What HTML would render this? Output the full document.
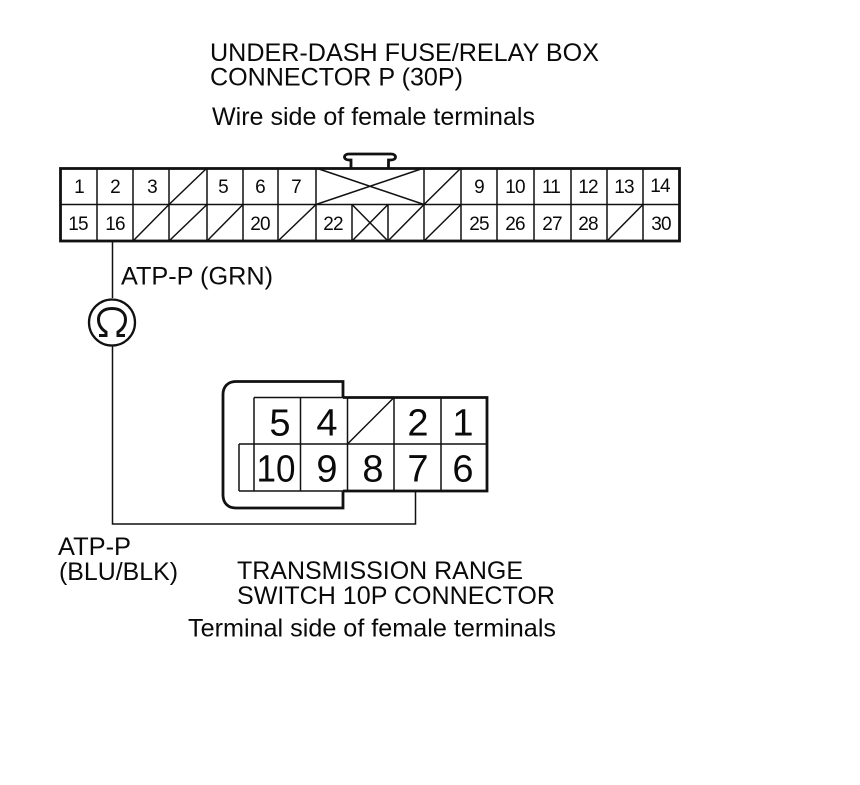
<!DOCTYPE html>
<html>
<head>
<meta charset="utf-8">
<style>
html,body{margin:0;padding:0;background:#fff;width:860px;height:785px;overflow:hidden}
svg{display:block}
text{font-family:"Liberation Sans",sans-serif;fill:#0a0a0a}
.t{font-size:25px}
.n{font-size:19px;text-anchor:middle;letter-spacing:-0.8px}
.b{font-size:38px;text-anchor:middle}
</style>
</head>
<body>
<svg width="860" height="785" viewBox="0 0 860 785" xmlns="http://www.w3.org/2000/svg">
<rect width="860" height="785" fill="#fff"/>
<!-- heading text -->
<text class="t" x="210" y="61" textLength="389" lengthAdjust="spacingAndGlyphs">UNDER-DASH FUSE/RELAY BOX</text>
<text class="t" x="210" y="85.500" textLength="253" lengthAdjust="spacingAndGlyphs">CONNECTOR P (30P)</text>
<text class="t" x="212" y="125" textLength="323" lengthAdjust="spacingAndGlyphs">Wire side of female terminals</text>

<!-- 30P connector tab -->
<path d="M351 168V160H349C343 160 343 154 349 154H391C397 154 397 160 391 160H388.500V168" fill="none" stroke="#111" stroke-width="2.800"/>

<!-- 30P thin grid -->
<g stroke="#111" stroke-width="1.500" fill="none">
<path d="M60 204.500H680"/>
<path d="M97 168V241M133 168V241M169 168V241M207 168V241M243 168V241M278 168V241M316 168V241M424 168V241M461 168V241M497 168V241M534 168V241M571 168V241M607 168V241M643 168V241"/>
<path d="M352 204.500V241M388 204.500V241"/>
<!-- blank wide cell cross -->
<path d="M316 168L424 204.500M316 204.500L424 168"/>
<!-- small cross -->
<path d="M352 204.500L388 241M352 241L388 204.500"/>
<!-- diagonals row 1 -->
<path d="M169 204.500L207 168M424 204.500L461 168"/>
<!-- diagonals row 2 -->
<path d="M133 241L169 204.500M169 241L207 204.500M207 241L243 204.500M278 241L316 204.500M388 241L424 204.500M424 241L461 204.500M607 241L643 204.500"/>
</g>
<rect x="60.500" y="168.500" width="619" height="72.500" fill="none" stroke="#111" stroke-width="2.800"/>

<!-- 30P labels -->
<g class="nums">
<text class="n" x="79" y="193">1</text>
<text class="n" x="115" y="193">2</text>
<text class="n" x="152" y="193">3</text>
<text class="n" x="223" y="193">5</text>
<text class="n" x="260" y="193">6</text>
<text class="n" x="296" y="193">7</text>
<text class="n" x="479" y="193">9</text>
<text class="n" x="515" y="193">10</text>
<text class="n" x="551" y="193">11</text>
<text class="n" x="588" y="193">12</text>
<text class="n" x="624" y="193">13</text>
<text class="n" x="660" y="192">14</text>
<text class="n" x="78" y="230">15</text>
<text class="n" x="115" y="230">16</text>
<text class="n" x="260" y="230">20</text>
<text class="n" x="333" y="230">22</text>
<text class="n" x="479" y="230">25</text>
<text class="n" x="515" y="230">26</text>
<text class="n" x="552" y="230">27</text>
<text class="n" x="588" y="230">28</text>
<text class="n" x="661" y="230">30</text>
</g>

<!-- wire -->
<path d="M112.500 241V298M112.500 346V524H415.500V491" fill="none" stroke="#111" stroke-width="1.500"/>
<text class="t" x="121" y="284.500" textLength="152" lengthAdjust="spacingAndGlyphs">ATP-P (GRN)</text>

<!-- ohm meter -->
<circle cx="112" cy="322.500" r="23" fill="#fff" stroke="#111" stroke-width="2.300"/>
<path d="M99 335.500H106V332C100.500 328.500 98.500 324 98.500 319.500C98.500 312.500 104 308.500 112 308.500C120 308.500 125.500 312.500 125.500 319.500C125.500 324 123.500 328.500 118 332V335.500H125" fill="none" stroke="#111" stroke-width="3"/>

<!-- 10P shell -->
<path d="M343 397V381.500H236C228 381.500 223 386.500 223 394.500V495C223 503 228 508 236 508H343V491" fill="none" stroke="#111" stroke-width="2.800"/>

<!-- 10P grid -->
<g stroke="#111" stroke-width="1.500" fill="none">
<path d="M254 397.500H343M239 444H487M239 491H343M239 444V491"/>
<path d="M254 397.500V491M300.500 397.500V491M347.500 397.500V491M394 397.500V491M441 397.500V491"/>
<path d="M347.500 444L394 397.500"/>
</g>
<path d="M343 397.500H487V491H343" fill="none" stroke="#111" stroke-width="2.800"/>

<!-- 10P labels -->
<text class="b" x="280" y="435.500">5</text>
<text class="b" x="327" y="435.500">4</text>
<text class="b" x="418" y="435.500">2</text>
<text class="b" x="463" y="435.500">1</text>
<text class="b" x="276" y="481.500" textLength="39" lengthAdjust="spacingAndGlyphs">10</text>
<text class="b" x="327" y="481.500">9</text>
<text class="b" x="373" y="481.500">8</text>
<text class="b" x="418" y="481.500">7</text>
<text class="b" x="463" y="481.500">6</text>

<!-- bottom text -->
<text class="t" x="58" y="555" textLength="73" lengthAdjust="spacingAndGlyphs">ATP-P</text>
<text class="t" x="59" y="580" textLength="119" lengthAdjust="spacingAndGlyphs">(BLU/BLK)</text>
<text class="t" x="237" y="579" textLength="286" lengthAdjust="spacingAndGlyphs">TRANSMISSION RANGE</text>
<text class="t" x="237" y="604" textLength="318" lengthAdjust="spacingAndGlyphs">SWITCH 10P CONNECTOR</text>
<text class="t" x="188" y="636.500" textLength="368" lengthAdjust="spacingAndGlyphs">Terminal side of female terminals</text>
</svg>
</body>
</html>
